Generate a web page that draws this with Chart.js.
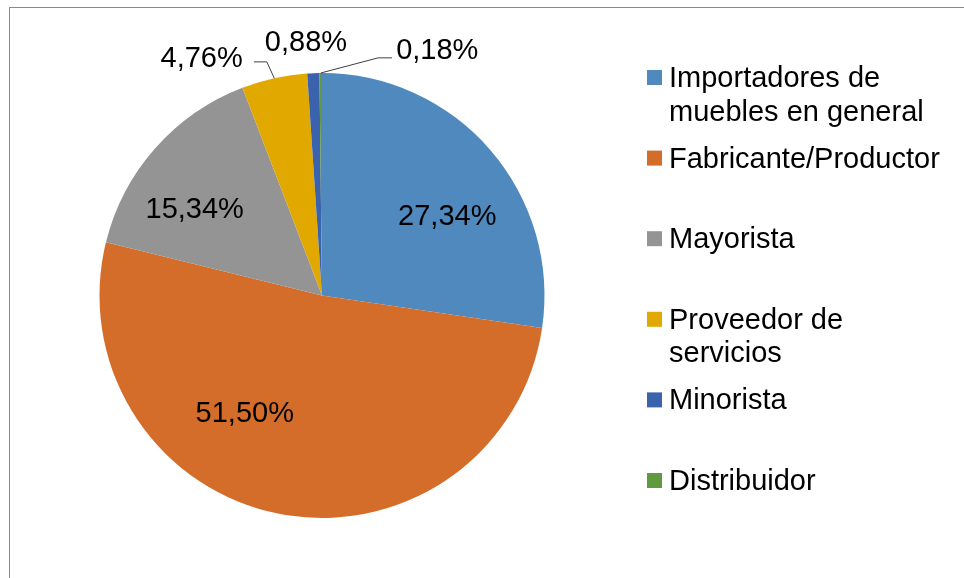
<!DOCTYPE html>
<html>
<head>
<meta charset="utf-8">
<script src="https://cdn.jsdelivr.net/npm/chart.js@4/dist/chart.umd.min.js"></script>
<style>
  html, body { margin: 0; padding: 0; background: #fff; }
  #wrap { width: 964px; height: 578px; position: relative; }
</style>
</head>
<body>
<div id="wrap"><canvas id="pieChart" width="964" height="578"></canvas></div>
<script>
// data
var categories = [
  ['Importadores de', 'muebles en general'],
  'Fabricante/Productor',
  'Mayorista',
  ['Proveedor de', 'servicios'],
  'Minorista',
  'Distribuidor'
];
var shares = [27.34, 51.50, 15.34, 4.76, 0.88, 0.18];
var sliceColors = ['#4f89be', '#d46d2a', '#949494', '#e1a900', '#3b63ad', '#5f9b3e'];

var FONT = '29px "Liberation Sans", Arial, sans-serif';

// where each percent label sits, relative to pie centre in radius units
var labelPos = [
  [0.563, -0.356], [-0.347, 0.527], [-0.572, -0.387],
  [-0.541, -1.068], [-0.072, -1.140], [0.518, -1.105]
];
// leader lines (label end, elbow) for the small outside slices
var leaders = { 3: [[-0.306, -1.050], [-0.248, -1.050]],
                5: [[0.315, -1.068], [0.252, -1.068]] };

function fmt(v) { return v.toFixed(2).replace('.', ',') + '%'; }

var framePlugin = {
  id: 'frame',
  beforeDraw: function(chart) {
    var c = chart.ctx;
    c.save();
    c.fillStyle = '#fff';
    c.fillRect(0, 0, chart.width, chart.height);
    c.strokeStyle = '#8a8a8a';
    c.lineWidth = 1;
    c.strokeRect(9.5, 7.5, 1000, 700);
    c.restore();
  }
};

var labelPlugin = {
  id: 'pctLabels',
  afterDatasetsDraw: function(chart) {
    var c = chart.ctx;
    var meta = chart.getDatasetMeta(0);
    c.save();
    c.font = FONT;
    c.fillStyle = '#000';
    c.textAlign = 'center';
    c.textBaseline = 'middle';
    meta.data.forEach(function(arc, i) {
      var p = arc.getProps(['x', 'y', 'startAngle', 'endAngle', 'outerRadius'], true);
      var r = p.outerRadius;
      c.fillText(fmt(shares[i]), p.x + labelPos[i][0] * r, p.y + labelPos[i][1] * r + 1);
      if (leaders[i]) {
        var mid = (p.startAngle + p.endAngle) / 2;
        c.beginPath();
        c.strokeStyle = '#404040';
        c.lineWidth = 1;
        c.moveTo(p.x + leaders[i][0][0] * r, p.y + leaders[i][0][1] * r);
        c.lineTo(p.x + leaders[i][1][0] * r, p.y + leaders[i][1][1] * r);
        c.lineTo(p.x + Math.cos(mid) * r, p.y + Math.sin(mid) * r);
        c.stroke();
      }
    });
    c.restore();
  }
};

var legendPlugin = {
  id: 'sideLegend',
  afterDraw: function(chart) {
    var c = chart.ctx;
    var ds = chart.data.datasets[0];
    c.save();
    c.font = FONT;
    c.fillStyle = '#000';
    c.textAlign = 'left';
    c.textBaseline = 'alphabetic';
    chart.data.labels.forEach(function(lbl, i) {
      var base = 87 + i * 80.6;
      c.fillStyle = ds.backgroundColor[i];
      c.fillRect(647, base - 17, 15, 15);
      c.fillStyle = '#000';
      var lines = Array.isArray(lbl) ? lbl : [lbl];
      lines.forEach(function(t, k) {
        c.fillText(t, 669, base + k * 33.5);
      });
    });
    c.restore();
  }
};

var ctx = document.getElementById('pieChart');
var pieChart = new Chart(ctx, {
  type: 'pie',
  data: {
    labels: categories,
    datasets: [{
      data: shares,
      backgroundColor: sliceColors,
      borderWidth: 0
    }]
  },
  options: {
    responsive: false,
    animation: false,
    layout: { padding: { left: 99.5, right: 419.5, top: 73, bottom: 60 } },
    plugins: {
      legend: { display: false },
      tooltip: { enabled: false }
    }
  },
  plugins: [framePlugin, labelPlugin, legendPlugin]
});
</script>
</body>
</html>
